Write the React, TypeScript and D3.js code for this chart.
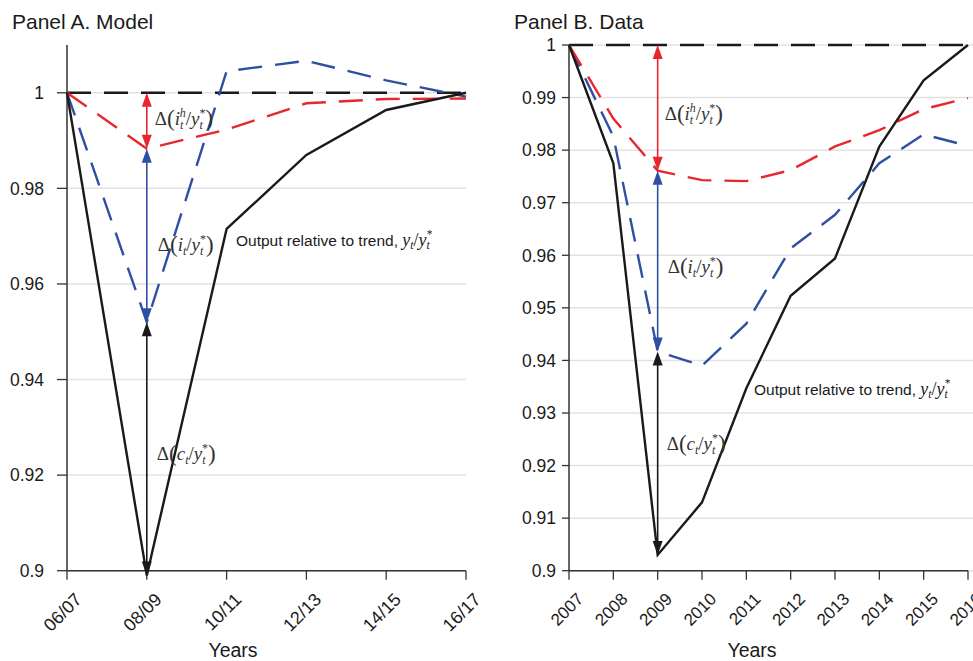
import React from "react";
import * as d3 from "d3";

// Panel A (model), two-year steps
const modelYears = ["06/07", "08/09", "10/11", "12/13", "14/15", "16/17"];
const modelOutput = [1.0, 0.899, 0.9715, 0.987, 0.9964, 1.0];
const modelInvest = [1.0, 0.952, 1.0045, 1.0067, 1.0026, 0.9992];
const modelHousing = [1.0, 0.9883, 0.9923, 0.9978, 0.9987, 0.9988];
const modelTicks = [0.9, 0.92, 0.94, 0.96, 0.98, 1];

// Panel B (data), annual
const dataYears = ["2007", "2008", "2009", "2010", "2011", "2012", "2013", "2014", "2015", "2016"];
const dataOutput = [1.0, 0.9775, 0.903, 0.913, 0.9347, 0.9523, 0.9594, 0.9807, 0.9933, 1.0];
const dataInvest = [1.0, 0.9826, 0.9417, 0.939, 0.947, 0.9613, 0.9677, 0.9775, 0.983, 0.9808];
const dataHousing = [1.0, 0.986, 0.9761, 0.9743, 0.9741, 0.9762, 0.9807, 0.9838, 0.9878, 0.9899];
const dataTicks = [0.9, 0.91, 0.92, 0.93, 0.94, 0.95, 0.96, 0.97, 0.98, 0.99, 1];

const RED = "#e8262d";
const BLUE = "#2f4fa2";
const BLACK = "#1a1a1a";
const SANS = "'Liberation Sans', Arial, Helvetica, sans-serif";
const SERIF = "'Liberation Serif', 'Times New Roman', serif";

const fmt = (v: number) => (v === 1 ? "1" : v === 0.9 ? "0.9" : d3.format(".2~f")(v));

// arrow with heads at both ends
const DoubleArrow = ({ x, y1, y2, color }: { x: number; y1: number; y2: number; color: string }) => {
  const L = 14;
  const w = 5;
  const top = Math.min(y1, y2);
  const bot = Math.max(y1, y2);
  return (
    <g>
      <line x1={x} x2={x} y1={top + L - 2} y2={bot - L + 2} stroke={color} strokeWidth={1.6} />
      <path d={`M${x},${top} L${x - w},${top + L} L${x + w},${top + L} Z`} fill={color} />
      <path d={`M${x},${bot} L${x - w},${bot - L} L${x + w},${bot - L} Z`} fill={color} />
    </g>
  );
};

// Δ(v_t^h / y_t^*) style label
const DeltaLabel = ({ x, y, v, sup }: { x: number; y: number; v: string; sup?: string }) => (
  <text x={x} y={y} fontFamily={SERIF} fontSize={19} fill="#333">
    <tspan>Δ</tspan>
    <tspan fontSize={23} dy={1}>(</tspan>
    <tspan fontStyle="italic" dy={-1}>{v}</tspan>
    <tspan fontStyle="italic" fontSize={12} dy={4}>t</tspan>
    {sup ? (
      <>
        <tspan fontStyle="italic" fontSize={12} dx={-3.5} dy={-12}>{sup}</tspan>
        <tspan dy={8}>/</tspan>
      </>
    ) : (
      <tspan dy={-4}>/</tspan>
    )}
    <tspan fontStyle="italic">y</tspan>
    <tspan fontStyle="italic" fontSize={12} dy={4}>t</tspan>
    <tspan fontSize={12} dx={-3.5} dy={-12}>*</tspan>
    <tspan fontSize={23} dy={9}>)</tspan>
  </text>
);

const OutputLabel = ({ x, y }: { x: number; y: number }) => (
  <text x={x} y={y} fontFamily={SANS} fontSize={15.5} fill={BLACK}>
    <tspan>Output relative to trend, </tspan>
    <tspan fontFamily={SERIF} fontStyle="italic" fontSize={18}>y</tspan>
    <tspan fontFamily={SERIF} fontStyle="italic" fontSize={11.5} dy={3}>t</tspan>
    <tspan fontFamily={SERIF} fontSize={18} dy={-3}>/</tspan>
    <tspan fontFamily={SERIF} fontStyle="italic" fontSize={18}>y</tspan>
    <tspan fontFamily={SERIF} fontStyle="italic" fontSize={11.5} dy={3}>t</tspan>
    <tspan fontFamily={SERIF} fontSize={11.5} dx={-3} dy={-11}>*</tspan>
  </text>
);

type PanelProps = {
  title: string;
  titleX: number;
  cats: string[];
  output: number[];
  invest: number[];
  housing: number[];
  ticks: number[];
  yMax: number;
  x0: number;
  x1: number;
  gridEnd: number;
  tickLen: number;
  labelGap: number;
  xFont: number;
  yearsX: number;
  trough: number;
  labels: { ih: number; i: number; c: number; out: [number, number]; dx: number };
};

const Panel = (p: PanelProps) => {
  const top = 45;
  const bottom = 570.7;
  const x = d3.scalePoint<string>().domain(p.cats).range([p.x0, p.x1]);
  const y = d3.scaleLinear().domain([0.9, p.yMax]).range([bottom, top]);
  const line = d3
    .line<number>()
    .x((_, i) => x(p.cats[i]) as number)
    .y((d) => y(d));
  const tx = x(p.cats[p.trough]) as number;
  const ones = p.cats.map(() => 1);
  const dash = "24,13";

  return (
    <g>
      <text x={p.titleX} y={29} fontFamily={SANS} fontSize={21} fill={BLACK}>
        {p.title}
      </text>
      {p.ticks.map((t) => (
        <g key={t}>
          <line x1={p.x0} x2={p.gridEnd} y1={y(t)} y2={y(t)} stroke="#e2e2e2" strokeWidth={1.5} />
          <line x1={p.x0 - p.tickLen} x2={p.x0} y1={y(t)} y2={y(t)} stroke="#333" strokeWidth={1.3} />
          <text
            x={p.x0 - p.tickLen - p.labelGap}
            y={y(t)}
            dy="0.36em"
            textAnchor="end"
            fontFamily={SANS}
            fontSize={17.5}
            fill={BLACK}
          >
            {fmt(t)}
          </text>
        </g>
      ))}
      <line x1={p.x0} x2={p.x0} y1={top} y2={bottom} stroke="#333" strokeWidth={1.5} />
      <line x1={p.x0} x2={p.x1} y1={bottom} y2={bottom} stroke="#333" strokeWidth={1.5} />
      {p.cats.map((c) => {
        const cx = x(c) as number;
        return (
          <g key={c}>
            <line x1={cx} x2={cx} y1={bottom} y2={bottom + 9} stroke="#333" strokeWidth={1.3} />
            <text
              transform={`translate(${cx + 7},${bottom + 21}) rotate(-45)`}
              textAnchor="end"
              dy="0.7em"
              fontFamily={SANS}
              fontSize={p.xFont}
              fill={BLACK}
            >
              {c}
            </text>
          </g>
        );
      })}
      <text x={p.yearsX} y={657} textAnchor="middle" fontFamily={SANS} fontSize={19.5} fill={BLACK}>
        Years
      </text>

      <path d={line(ones) || ""} fill="none" stroke={BLACK} strokeWidth={2.6} strokeDasharray={dash} />
      <path d={line(p.invest) || ""} fill="none" stroke={BLUE} strokeWidth={2.4} strokeDasharray={dash} />
      <path d={line(p.housing) || ""} fill="none" stroke={RED} strokeWidth={2.4} strokeDasharray={dash} />
      <path d={line(p.output) || ""} fill="none" stroke={BLACK} strokeWidth={2.4} />

      <DoubleArrow x={tx} y1={y(1)} y2={y(p.housing[p.trough])} color={RED} />
      <DoubleArrow x={tx} y1={y(p.housing[p.trough])} y2={y(p.invest[p.trough])} color={BLUE} />
      <DoubleArrow x={tx} y1={y(p.invest[p.trough])} y2={y(p.output[p.trough])} color={BLACK} />

      <DeltaLabel x={tx + p.labels.dx} y={y(p.labels.ih)} v="i" sup="h" />
      <DeltaLabel x={tx + p.labels.dx + 3} y={y(p.labels.i)} v="i" />
      <DeltaLabel x={tx + p.labels.dx + 2} y={y(p.labels.c)} v="c" />
      <OutputLabel x={p.labels.out[0]} y={y(p.labels.out[1])} />
    </g>
  );
};

export default function App() {
  return (
    <svg width={973} height={661} style={{ position: "absolute", left: 0, top: 0, background: "#fff" }}>
      <Panel
        title="Panel A. Model"
        titleX={12}
        cats={modelYears}
        output={modelOutput}
        invest={modelInvest}
        housing={modelHousing}
        ticks={modelTicks}
        yMax={1.01}
        x0={67}
        x1={466}
        gridEnd={466}
        tickLen={10}
        labelGap={13}
        xFont={18}
        yearsX={233}
        trough={1}
        labels={{ ih: 0.9933, i: 0.967, c: 0.9232, out: [236, 0.968], dx: 8 }}
      />
      <Panel
        title="Panel B. Data"
        titleX={514}
        cats={dataYears}
        output={dataOutput}
        invest={dataInvest}
        housing={dataHousing}
        ticks={dataTicks}
        yMax={1.0}
        x0={569}
        x1={968}
        gridEnd={973}
        tickLen={7}
        labelGap={6}
        xFont={17}
        yearsX={752}
        trough={2}
        labels={{ ih: 0.9857, i: 0.9566, c: 0.923, out: [754, 0.9334], dx: 7 }}
      />
    </svg>
  );
}
